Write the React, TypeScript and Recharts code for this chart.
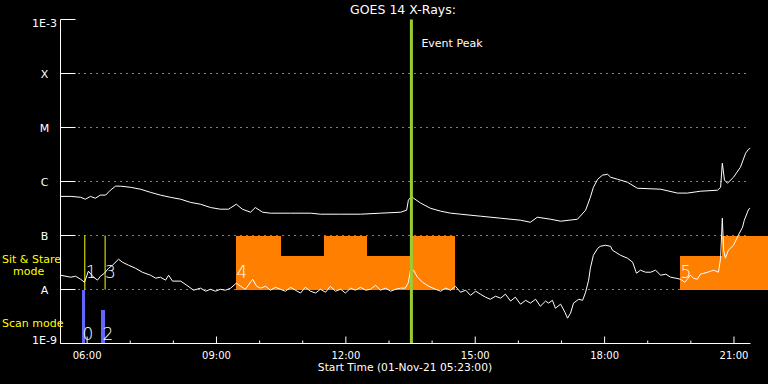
import {
  CartesianGrid,
  ComposedChart,
  Line,
  ReferenceArea,
  ReferenceLine,
  XAxis,
  YAxis,
} from "recharts";

// time axis runs 16 h from the start time 05:23
const START_HOUR = 5 + 23 / 60;
const END_HOUR = START_HOUR + 16;

const hourTicks = [6, 7, 8, 9, 10, 11, 12, 13, 14, 15, 16, 17, 18, 19, 20, 21];
const fluxTicks = [1e-9, 1e-8, 1e-7, 1e-6, 1e-5, 1e-4, 1e-3];
const fluxTickLabels = ["1E-9", "A", "B", "C", "M", "X", "1E-3"];
const gridFlux = [1e-8, 1e-7, 1e-6, 1e-5, 1e-4];

// long channel (upper curve)
const longHours = [
  5.38, 5.62, 5.85, 5.96, 6.08, 6.19, 6.31, 6.43, 6.54, 6.66, 6.77, 7.01, 7.24, 7.47, 7.7, 7.93,
  8.17, 8.4, 8.63, 8.86, 9.09, 9.28, 9.46, 9.6, 9.79, 9.9, 10.07, 10.25, 10.72, 11.18, 11.41,
  11.88, 12.34, 12.8, 13.27, 13.41, 13.45, 13.52, 13.57, 13.73, 13.96, 14.2, 14.43, 14.66, 15.12,
  15.59, 16.05, 16.28, 16.44, 16.75, 16.98, 17.37, 17.56, 17.67, 17.74, 17.84, 17.95, 18.07,
  18.14, 18.3, 18.53, 18.76, 19.3, 19.69, 19.92, 20.22, 20.62, 20.69, 20.73, 20.78, 20.85,
  20.99, 21.15, 21.27, 21.34, 21.38,
];
const longFlux = [
  5.3e-7, 5.3e-7, 5.1e-7, 4.7e-7, 5.3e-7, 4.9e-7, 5.6e-7, 5.6e-7, 6.9e-7, 8.2e-7, 8.2e-7, 7.8e-7,
  7.2e-7, 6.3e-7, 5.6e-7, 5.1e-7, 4.7e-7, 4.1e-7, 3.8e-7, 3.3e-7, 3.07e-7, 3.07e-7, 3.8e-7,
  3.07e-7, 2.7e-7, 3.3e-7, 2.7e-7, 2.59e-7, 2.59e-7, 2.59e-7, 2.48e-7, 2.48e-7, 2.48e-7, 2.59e-7,
  2.7e-7, 2.94e-7, 4.5e-7, 5.3e-7, 4.9e-7, 4.0e-7, 3.2e-7, 2.82e-7, 2.59e-7, 2.48e-7, 2.28e-7,
  2.09e-7, 1.92e-7, 1.76e-7, 2.18e-7, 2.0e-7, 1.84e-7, 2.0e-7, 2.94e-7, 5.1e-7, 7.8e-7, 1.1e-6,
  1.31e-6, 1.36e-6, 1.2e-6, 1.1e-6, 9.7e-7, 7.5e-7, 7.2e-7, 6.1e-7, 6.1e-7, 6.6e-7, 6.9e-7,
  7.8e-7, 2.18e-6, 1.06e-6, 9.3e-7, 1.2e-6, 1.84e-6, 3.34e-6, 3.97e-6, 4.14e-6,
];

// short channel (lower, noisy curve)
const shortHours = [
  5.38, 5.62, 5.73, 5.85, 5.94, 6.03, 6.15, 6.24, 6.31, 6.4, 6.5, 6.59, 6.73, 6.82, 6.96, 7.12,
  7.28, 7.47, 7.59, 7.7, 7.82, 7.89, 7.98, 8.17, 8.31, 8.47, 8.63, 8.75, 8.86, 8.98, 9.09, 9.21,
  9.33, 9.46, 9.56, 9.67, 9.84, 9.93, 10.02, 10.14, 10.25, 10.37, 10.48, 10.6, 10.72, 10.83,
  10.95, 11.06, 11.18, 11.3, 11.41, 11.53, 11.64, 11.76, 11.88, 11.99, 12.11, 12.22, 12.34,
  12.46, 12.57, 12.69, 12.8, 12.92, 13.04, 13.15, 13.27, 13.38, 13.45, 13.5, 13.57, 13.66,
  13.78, 13.92, 14.08, 14.2, 14.31, 14.43, 14.54, 14.66, 14.78, 14.89, 15.01, 15.12, 15.24,
  15.35, 15.47, 15.59, 15.7, 15.82, 15.93, 16.05, 16.17, 16.28, 16.4, 16.51, 16.63, 16.7, 16.79,
  16.86, 16.98, 17.08, 17.14, 17.21, 17.28, 17.4, 17.49, 17.56, 17.63, 17.67, 17.74, 17.84,
  17.9, 18.02, 18.14, 18.18, 18.37, 18.53, 18.65, 18.74, 18.83, 18.95, 19.07, 19.18, 19.3,
  19.42, 19.53, 19.65, 19.76, 19.86, 19.92, 19.99, 20.06, 20.15, 20.22, 20.39, 20.53, 20.64,
  20.69, 20.73, 20.76, 20.8, 20.87, 20.99, 21.1, 21.2, 21.24, 21.34, 21.38,
];
const shortFlux = [
  1.84e-8, 1.69e-8, 1.76e-8, 1.55e-8, 1.36e-8, 2.18e-8, 1.69e-8, 1.49e-8, 1.76e-8, 2.0e-8,
  2.48e-8, 2.82e-8, 3.64e-8, 3.2e-8, 2.82e-8, 2.48e-8, 2.09e-8, 1.84e-8, 1.62e-8, 1.69e-8,
  1.49e-8, 1.84e-8, 1.43e-8, 1.43e-8, 1.2e-8, 9.7e-9, 1.06e-8, 9.3e-9, 1.01e-8, 9.3e-9, 1.01e-8,
  9.7e-9, 1.06e-8, 1.31e-8, 1.15e-8, 1.01e-8, 1.55e-8, 1.15e-8, 1.06e-8, 1.15e-8, 9.7e-9, 1.1e-8,
  1.01e-8, 9.3e-9, 1.1e-8, 9.7e-9, 8.6e-9, 1.1e-8, 9.3e-9, 8.6e-9, 1.01e-8, 8.9e-9, 1.15e-8,
  9.3e-9, 1.01e-8, 8.6e-9, 1.06e-8, 9.7e-9, 1.1e-8, 9.7e-9, 1.01e-8, 1.2e-8, 9.7e-9, 1.06e-8,
  9.3e-9, 1.01e-8, 1.06e-8, 1.06e-8, 1.36e-8, 2.28e-8, 2.28e-8, 1.69e-8, 1.36e-8, 1.15e-8,
  1.01e-8, 9.3e-9, 1.06e-8, 9.7e-9, 1.15e-8, 8.9e-9, 9.7e-9, 7.8e-9, 9.3e-9, 8.2e-9, 7.2e-9,
  6.6e-9, 7.5e-9, 6.9e-9, 8.2e-9, 6.1e-9, 7.2e-9, 5.35e-9, 6.3e-9, 5.6e-9, 6.6e-9, 4.9e-9,
  6.1e-9, 5.6e-9, 6.3e-9, 4.5e-9, 5.35e-9, 3.8e-9, 2.94e-9, 3.64e-9, 5.6e-9, 6.6e-9, 6.3e-9,
  8.9e-9, 1.49e-8, 2.48e-8, 4.3e-8, 5.8e-8, 6.3e-8, 6.6e-8, 6.3e-8, 5.35e-8, 4.3e-8, 3.8e-8,
  3.2e-8, 2.0e-8, 2.28e-8, 2.09e-8, 2.09e-8, 2.28e-8, 1.84e-8, 1.92e-8, 1.69e-8, 1.62e-8,
  1.55e-8, 1.36e-8, 1.55e-8, 1.84e-8, 1.62e-8, 1.55e-8, 1.92e-8, 2.09e-8, 2.28e-8, 2.09e-8,
  3.8e-8, 2.09e-7, 5.35e-8, 3.8e-8, 5.35e-8, 6.6e-8, 1.01e-7, 1.43e-7, 1.92e-7, 3.07e-7, 3.2e-7,
];

// scan mode bars (blue) and sit & stare markers (yellow)
const scanNames = ["0", "2"];
const scanStart = [5.893, 6.334];
const scanEnd = [5.963, 6.404];
const scanTop = [1e-8, 4.1e-9];
const stareNames = ["1", "3"];
const stareHours = [5.947, 6.418];

// sit & stare blocks (orange)
const blockNames = ["4", "", "", "", "", "5", ""];
const blockStart = [9.464, 10.485, 11.482, 12.502, 13.5, 19.76, 20.734];
const blockEnd = [10.485, 11.482, 12.502, 13.5, 14.52, 20.734, 21.8];
const blockTop = [1e-7, 4.1e-8, 1e-7, 4.1e-8, 1e-7, 4.1e-8, 1e-7];

const eventPeakHour = 13.52;

const longData = longHours.map((h, i) => ({ h, flux: longFlux[i] }));
const shortData = shortHours.map((h, i) => ({ h, flux: shortFlux[i] }));

const FONT = "DejaVu Sans";
const hh = (h: number) => `${String(h).padStart(2, "0")}:00`;

function BottomTick({ x, y, payload }: any) {
  const major = payload.value % 3 === 0;
  return (
    <g>
      <line x1={x} x2={x} y1={y} y2={y - (major ? 7 : 3)} stroke="#fff" />
      {major && (
        <text x={x} y={y + 15} textAnchor="middle" fill="#fff" fontSize={10} fontFamily={FONT}>
          {hh(payload.value)}
        </text>
      )}
    </g>
  );
}

function TopTick({ x, y, payload }: any) {
  const major = payload.value % 3 === 0;
  return <line x1={x} x2={x} y1={y} y2={y + (major ? 7 : 3)} stroke="#fff" />;
}

function LeftTick({ x, y, payload, index }: any) {
  const dy = payload.value === 1e-3 ? 7.5 : payload.value === 1e-9 ? 0 : 4.5;
  return (
    <g>
      <line x1={x} x2={x + 15} y1={y} y2={y} stroke="#fff" />
      <text x={x - 16} y={y + dy} textAnchor="middle" fill="#fff" fontSize={11} fontFamily={FONT}>
        {fluxTickLabels[index]}
      </text>
    </g>
  );
}

function RightTick({ x, y }: any) {
  return <line x1={x} x2={x - 15} y1={y} y2={y} stroke="#fff" />;
}

// digit next to a marker, measured from the marker's box
const digitLabel = (text: string, dx: number, fromBottom: number) => (props: any) => {
  const vb = props.viewBox;
  return (
    <text
      x={vb.x + dx}
      y={vb.y + vb.height - fromBottom}
      fill="#fff"
      fontSize={17}
      fontWeight={200}
      fontFamily={FONT}
    >
      {text}
    </text>
  );
};

export default function App() {
  return (
    <div style={{ position: "absolute", left: 0, top: 0, width: 768, height: 384, background: "#000" }}>
      <ComposedChart width={768} height={384} margin={{ top: 19.5, right: 17.5, bottom: 0, left: 0 }}>
        <CartesianGrid
          xAxisId="b"
          yAxisId="l"
          vertical={false}
          horizontalValues={gridFlux}
          stroke="#fff"
          strokeDasharray="1 5"
        />
        <XAxis
          xAxisId="b"
          type="number"
          dataKey="h"
          domain={[START_HOUR, END_HOUR]}
          allowDataOverflow
          ticks={hourTicks}
          interval={0}
          height={40.5}
          tickSize={0}
          tickMargin={0}
          tickLine={false}
          stroke="#fff"
          tick={<BottomTick />}
        />
        <XAxis
          xAxisId="t"
          orientation="top"
          type="number"
          dataKey="h"
          domain={[START_HOUR, END_HOUR]}
          allowDataOverflow
          ticks={hourTicks}
          interval={0}
          height={0}
          tickSize={0}
          tickMargin={0}
          tickLine={false}
          stroke="#fff"
          tick={<TopTick />}
        />
        <YAxis
          yAxisId="l"
          scale="log"
          domain={[1e-9, 1e-3]}
          allowDataOverflow
          ticks={fluxTicks}
          interval={0}
          width={60.5}
          tickSize={0}
          tickMargin={0}
          tickLine={false}
          stroke="#fff"
          tick={<LeftTick />}
        />
        <YAxis
          yAxisId="r"
          orientation="right"
          scale="log"
          domain={[1e-9, 1e-3]}
          allowDataOverflow
          ticks={fluxTicks}
          interval={0}
          width={0}
          tickSize={0}
          tickMargin={0}
          tickLine={false}
          stroke="#fff"
          tick={<RightTick />}
        />

        {blockStart.map((s, i) => (
          <ReferenceArea
            key={`block${i}`}
            xAxisId="b"
            yAxisId="l"
            x1={s}
            x2={blockEnd[i]}
            y1={1e-8}
            y2={blockTop[i]}
            fill="#ff8000"
            fillOpacity={1}
            stroke="none"
            shapeRendering="crispEdges"
            ifOverflow="visible"
            label={blockNames[i] ? digitLabel(blockNames[i], 0, 11.5) : undefined}
          />
        ))}
        {scanStart.map((s, i) => (
          <ReferenceArea
            key={`scan${i}`}
            xAxisId="b"
            yAxisId="l"
            x1={s}
            x2={scanEnd[i]}
            y1={1e-9}
            y2={scanTop[i]}
            fill="#6464ff"
            fillOpacity={1}
            stroke="none"
            shapeRendering="crispEdges"
            label={digitLabel(scanNames[i], i === 0 ? 0 : 1, 4)}
          />
        ))}
        {stareHours.map((h, i) => (
          <ReferenceLine
            key={`stare${i}`}
            xAxisId="b"
            yAxisId="l"
            segment={[
              { x: h, y: 1e-7 },
              { x: h, y: 1e-8 },
            ]}
            stroke="#ffff00"
            label={digitLabel(stareNames[i], i === 0 ? 1 : 0, 11.5)}
          />
        ))}

        <Line
          xAxisId="b"
          yAxisId="l"
          data={longData}
          dataKey="flux"
          type="linear"
          dot={false}
          stroke="#fff"
          strokeWidth={1}
          isAnimationActive={false}
        />
        {/* same scales, bound to the mirrored top/right axes so they get drawn */}
        <Line
          xAxisId="t"
          yAxisId="r"
          data={shortData}
          dataKey="flux"
          type="linear"
          dot={false}
          stroke="#fff"
          strokeWidth={1}
          isAnimationActive={false}
        />

        <ReferenceLine
          xAxisId="b"
          yAxisId="l"
          x={eventPeakHour}
          stroke="#9acd32"
          strokeWidth={3}
          label={(props: any) => (
            <text x={props.viewBox.x + 10} y={props.viewBox.y + 27} fill="#fff" fontSize={11} fontFamily={FONT}>
              Event Peak
            </text>
          )}
        />
      </ComposedChart>

      <svg
        width={768}
        height={384}
        style={{ position: "absolute", left: 0, top: 0, pointerEvents: "none" }}
        fontFamily={FONT}
      >
        <text x={403} y={14} textAnchor="middle" fill="#fff" fontSize={12.5}>
          GOES 14 X-Rays:
        </text>
        <text x={405} y={371} textAnchor="middle" fill="#fff" fontSize={10.7}>
          Start Time (01-Nov-21 05:23:00)
        </text>
        <text x={2} y={263} fill="#ffff00" fontSize={11}>
          Sit &amp; Stare
        </text>
        <text x={13} y={275} fill="#ffff00" fontSize={11}>
          mode
        </text>
        <text x={2} y={327} fill="#ffff00" fontSize={11}>
          Scan mode
        </text>
      </svg>
    </div>
  );
}
